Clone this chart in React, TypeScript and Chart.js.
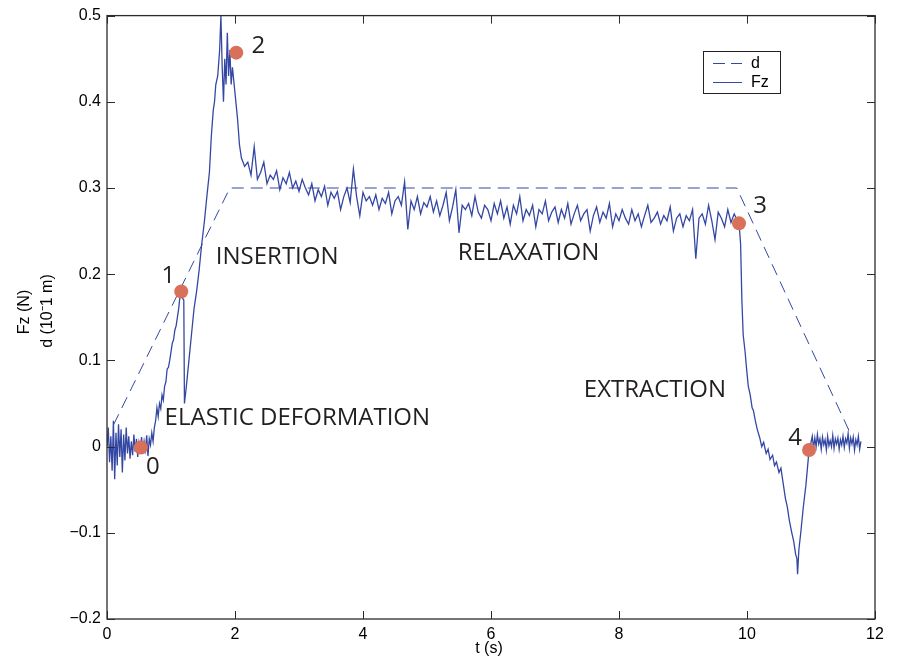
import React, { useEffect, useRef } from "react";
import { Chart, registerables } from "chart.js";

Chart.register(...registerables);

// ---------- data ----------
// displacement d (dashed), [t, value]
const dTimes = [0.1, 1.92, 9.84, 11.61];
const dValues = [0.025, 0.3, 0.3, 0.016];

// Fz: baseline noise, t = 0 .. 0.74 (step 0.02)
const baseStart = 0;
const baseStep = 0.02;
const baseValues = [
  0.0, 0.022, -0.018, 0.012, -0.028, 0.03, -0.038, 0.016, -0.022, 0.026,
  -0.012, 0.02, -0.03, 0.014, -0.016, 0.022, -0.008, 0.012, -0.014, 0.006,
  -0.01, 0.014, -0.006, 0.009, -0.012, 0.005, -0.003, 0.011, -0.008, 0.006,
  -0.004, 0.013, -0.011, 0.009, 0.002, 0.016, 0.006, 0.022,
];

// Fz: elastic deformation + insertion + peak decay
const riseTimes = [
  0.76, 0.78, 0.8, 0.82, 0.84, 0.86, 0.88, 0.9, 0.92, 0.94, 0.96, 0.98, 1.0,
  1.02, 1.04, 1.06, 1.08, 1.1, 1.12, 1.14, 1.16, 1.18, 1.2, 1.21, 1.24, 1.28,
  1.32, 1.36, 1.4, 1.44, 1.48, 1.52, 1.56, 1.6, 1.63, 1.66, 1.68, 1.7, 1.73,
  1.76, 1.78, 1.8, 1.82, 1.84, 1.86, 1.88, 1.9, 1.92, 1.94, 1.96, 2.0, 2.04,
  2.07,
];
const riseValues = [
  0.03, 0.045, 0.035, 0.05, 0.044, 0.06, 0.054, 0.07, 0.075, 0.09, 0.092, 0.1,
  0.11, 0.12, 0.124, 0.135, 0.14, 0.15, 0.16, 0.174, 0.18, 0.172, 0.17, 0.05,
  0.07, 0.1, 0.13, 0.16, 0.18, 0.205, 0.235, 0.26, 0.29, 0.318, 0.36, 0.39,
  0.4, 0.42, 0.43, 0.46, 0.5, 0.44, 0.4, 0.45, 0.42, 0.48, 0.43, 0.46, 0.42,
  0.44, 0.41, 0.38, 0.35,
];

// Fz: relaxation, t = 2.10 .. 9.85 (step 0.05)
const relaxStart = 2.1;
const relaxStep = 0.05;
const relaxValues = [
  0.335, 0.325, 0.33, 0.315, 0.348, 0.31, 0.318, 0.33, 0.305, 0.315,
  0.31, 0.32, 0.298, 0.312, 0.305, 0.318, 0.3, 0.308, 0.296, 0.31,
  0.3, 0.292, 0.305, 0.285, 0.298, 0.29, 0.302, 0.28, 0.295, 0.288,
  0.296, 0.275, 0.29, 0.3, 0.283, 0.322, 0.29, 0.268, 0.295, 0.285,
  0.29, 0.28, 0.292, 0.275, 0.288, 0.282, 0.295, 0.27, 0.285, 0.29,
  0.28, 0.307, 0.252, 0.285, 0.275, 0.29, 0.27, 0.283, 0.278, 0.29,
  0.272, 0.285, 0.268, 0.28, 0.295, 0.262, 0.278, 0.298, 0.248, 0.28,
  0.275, 0.282, 0.268, 0.29, 0.272, 0.265, 0.28, 0.275, 0.262, 0.282,
  0.27, 0.285, 0.265, 0.278, 0.258, 0.28, 0.27, 0.29, 0.262, 0.275,
  0.268, 0.28, 0.255, 0.275, 0.27, 0.285, 0.262, 0.272, 0.278, 0.26,
  0.275, 0.265, 0.282, 0.258, 0.27, 0.28, 0.262, 0.27, 0.275, 0.25,
  0.268, 0.278, 0.26, 0.272, 0.265, 0.282, 0.255, 0.27, 0.262, 0.275,
  0.265, 0.258, 0.275, 0.262, 0.27, 0.255, 0.268, 0.28, 0.26, 0.265,
  0.272, 0.258, 0.268, 0.262, 0.278, 0.25, 0.265, 0.27, 0.255, 0.268,
  0.262, 0.275, 0.218, 0.265, 0.27, 0.258, 0.28, 0.262, 0.24, 0.272,
  0.265, 0.255, 0.275, 0.26, 0.27, 0.262,
];

// Fz: extraction
const extractTimes = [
  9.875, 9.9, 9.92, 9.94, 9.97, 10.0, 10.02, 10.05, 10.08, 10.1, 10.13, 10.16,
  10.2, 10.23, 10.26, 10.3, 10.33, 10.36, 10.4, 10.43, 10.46, 10.5, 10.53,
  10.56, 10.6, 10.63, 10.66, 10.7, 10.73, 10.76, 10.78, 10.79, 10.81, 10.84,
  10.88, 10.92, 10.96, 10.98,
];
const extractValues = [
  0.26, 0.235, 0.17, 0.13, 0.11, 0.085, 0.07, 0.06, 0.045, 0.042, 0.03, 0.02,
  0.01, 0.0, 0.005, -0.008, -0.003, -0.015, -0.01, -0.022, -0.018, -0.03,
  -0.025, -0.04, -0.06, -0.07, -0.085, -0.1, -0.11, -0.125, -0.13, -0.148,
  -0.12, -0.1, -0.07, -0.045, -0.012, -0.003,
];

// Fz: tail noise, t = 11.0 .. (step 0.02)
const tailStart = 11.0;
const tailStep = 0.02;
const tailValues = [
  0.005, 0.012, -0.002, 0.01, 0.0, 0.014, 0.003, 0.009, -0.003, 0.011,
  0.002, 0.008, -0.004, 0.012, 0.001, 0.007, 0.0, 0.013, -0.002, 0.009,
  0.003, 0.01, -0.003, 0.008, 0.002, 0.012, -0.001, 0.009, 0.004, 0.015,
  -0.002, 0.01, 0.003, 0.011, -0.004, 0.008, 0.002, 0.012, -0.003, 0.006,
];

// key points 0..4
const keyLabels = ["0", "1", "2", "3", "4"];
const keyTimes = [0.53, 1.16, 2.02, 9.875, 10.97];
const keyValues = [-0.001, 0.18, 0.457, 0.259, -0.004];

// phase annotations
const phaseLabels = ["ELASTIC DEFORMATION", "INSERTION", "RELAXATION", "EXTRACTION"];
const phaseTimes = [0.9, 1.7, 5.48, 7.45];
const phaseValues = [0.0335, 0.2195, 0.224, 0.065];

const xTicks = [0, 2, 4, 6, 8, 10, 12];
const yTicks = [-0.2, -0.1, 0, 0.1, 0.2, 0.3, 0.4, 0.5];

// ---------- style ----------
const BLUE = "#3447a3";
const MARK = "#d9705a";
const AXIS = "#2b2b2b";
const TEXT = "#231f20";
const TICK_FONT = '16px "Liberation Sans", Arial, sans-serif';
const NOTE_FONT = '24px "Open Sans", sans-serif';
const keyLabelOffsets = [
  [12, 20],
  [-13, -15],
  [22, -7],
  [21, -17],
  [-14, -12],
];

function stepSeries(start: number, step: number, values: number[]) {
  return values.map((v, i) => ({ x: +(start + i * step).toFixed(4), y: v }));
}
function pairSeries(times: number[], values: number[]) {
  return times.map((t, i) => ({ x: t, y: values[i] }));
}

const fzData = [
  ...stepSeries(baseStart, baseStep, baseValues),
  ...pairSeries(riseTimes, riseValues),
  ...stepSeries(relaxStart, relaxStep, relaxValues),
  ...pairSeries(extractTimes, extractValues),
  ...stepSeries(tailStart, tailStep, tailValues),
];

function fmtY(v: number) {
  const r = Math.round(v * 10) / 10;
  if (r === 0) return "0";
  return (r < 0 ? "\u2212" : "") + Math.abs(r).toString();
}

const overlay = {
  id: "overlay",
  afterDraw(chart: any) {
    const { ctx, chartArea: a, scales } = chart;
    const xs = scales.x;
    const ys = scales.y;
    ctx.save();
    // frame
    ctx.strokeStyle = AXIS;
    ctx.lineWidth = 1.3;
    ctx.strokeRect(a.left, a.top, a.right - a.left, a.bottom - a.top);
    // inward ticks
    ctx.lineWidth = 1;
    const tl = 8;
    ctx.beginPath();
    xs.ticks.forEach((t: any) => {
      const px = Math.round(xs.getPixelForValue(t.value)) + 0.5;
      ctx.moveTo(px, a.bottom);
      ctx.lineTo(px, a.bottom - tl);
      ctx.moveTo(px, a.top);
      ctx.lineTo(px, a.top + tl);
    });
    ys.ticks.forEach((t: any) => {
      const py = Math.round(ys.getPixelForValue(t.value)) + 0.5;
      ctx.moveTo(a.left, py);
      ctx.lineTo(a.left + tl, py);
      ctx.moveTo(a.right, py);
      ctx.lineTo(a.right - tl, py);
    });
    ctx.stroke();

    // axis titles
    ctx.fillStyle = "#000";
    ctx.font = TICK_FONT;
    ctx.textAlign = "center";
    ctx.textBaseline = "middle";
    ctx.fillText("t (s)", (a.left + a.right) / 2 - 2, 649);
    ctx.save();
    ctx.translate(24.5, 312);
    ctx.rotate(-Math.PI / 2);
    ctx.fillText("Fz (N)", 0, 0);
    ctx.restore();
    ctx.save();
    ctx.translate(47.5, 311);
    ctx.rotate(-Math.PI / 2);
    ctx.fillText("d (10\u207B1 m)", 0, 0);
    ctx.restore();

    // phase annotations
    ctx.fillStyle = TEXT;
    ctx.font = NOTE_FONT;
    ctx.textAlign = "left";
    phaseLabels.forEach((s, i) => {
      ctx.fillText(s, xs.getPixelForValue(phaseTimes[i]), ys.getPixelForValue(phaseValues[i]));
    });
    // key point labels
    ctx.textAlign = "center";
    keyLabels.forEach((s, i) => {
      const px = xs.getPixelForValue(keyTimes[i]) + keyLabelOffsets[i][0];
      const py = ys.getPixelForValue(keyValues[i]) + keyLabelOffsets[i][1];
      ctx.fillText(s, px, py);
    });

    // legend
    const lx = 703.5, ly = 51.5, lw = 77, lh = 42;
    ctx.fillStyle = "#fff";
    ctx.fillRect(lx, ly, lw, lh);
    ctx.strokeStyle = "#222";
    ctx.lineWidth = 1;
    ctx.strokeRect(lx, ly, lw, lh);
    ctx.strokeStyle = BLUE;
    ctx.setLineDash([12, 6]);
    ctx.beginPath();
    ctx.moveTo(713, 63.5);
    ctx.lineTo(742, 63.5);
    ctx.stroke();
    ctx.setLineDash([]);
    ctx.beginPath();
    ctx.moveTo(713, 82.5);
    ctx.lineTo(742, 82.5);
    ctx.stroke();
    ctx.fillStyle = "#000";
    ctx.font = TICK_FONT;
    ctx.textAlign = "left";
    ctx.fillText("d", 751, 64);
    ctx.fillText("Fz", 751, 83);
    ctx.restore();
  },
};

export default function App() {
  const ref = useRef<HTMLCanvasElement | null>(null);
  useEffect(() => {
    if (!ref.current) return;
    const chart = new Chart(ref.current, {
      type: "line",
      data: {
        datasets: [
          {
            label: "points",
            data: pairSeries(keyTimes, keyValues),
            showLine: false,
            pointRadius: 7,
            pointBackgroundColor: MARK,
            pointBorderColor: MARK,
            pointBorderWidth: 0,
          },
          {
            label: "Fz",
            data: fzData,
            borderColor: BLUE,
            borderWidth: 1.3,
            pointRadius: 0,
            tension: 0,
          },
          {
            label: "d",
            data: pairSeries(dTimes, dValues),
            borderColor: BLUE,
            borderWidth: 1,
            borderDash: [12, 7],
            pointRadius: 0,
            tension: 0,
          },
        ],
      },
      options: {
        responsive: false,
        animation: false,
        devicePixelRatio: 1,
        layout: { padding: { left: 0, top: 13, right: 24, bottom: 0 } },
        plugins: { legend: { display: false }, tooltip: { enabled: false } },
        scales: {
          x: {
            type: "linear",
            min: 0,
            max: 12,
            afterBuildTicks: (s: any) => {
              s.ticks = xTicks.map((v) => ({ value: v }));
            },
            afterFit: (s: any) => {
              s.height = 39;
            },
            grid: { display: false, drawTicks: false },
            border: { display: false },
            ticks: { color: "#000", font: { family: '"Liberation Sans", Arial, sans-serif', size: 16 }, padding: 6, maxRotation: 0 },
          },
          y: {
            type: "linear",
            min: -0.2,
            max: 0.5,
            afterBuildTicks: (s: any) => {
              s.ticks = yTicks.map((v) => ({ value: v }));
            },
            afterFit: (s: any) => {
              s.width = 107;
            },
            grid: { display: false, drawTicks: false },
            border: { display: false },
            ticks: {
              color: "#000",
              font: { family: '"Liberation Sans", Arial, sans-serif', size: 16 },
              padding: 6,
              callback: (v: any) => fmtY(Number(v)),
            },
          },
        },
      },
      plugins: [overlay],
    });
    return () => chart.destroy();
  }, []);
  return (
    <div style={{ position: "fixed", left: 0, top: 0, width: 899, height: 658, background: "#fff" }}>
      <canvas ref={ref} width={899} height={658} style={{ display: "block" }} />
    </div>
  );
}
